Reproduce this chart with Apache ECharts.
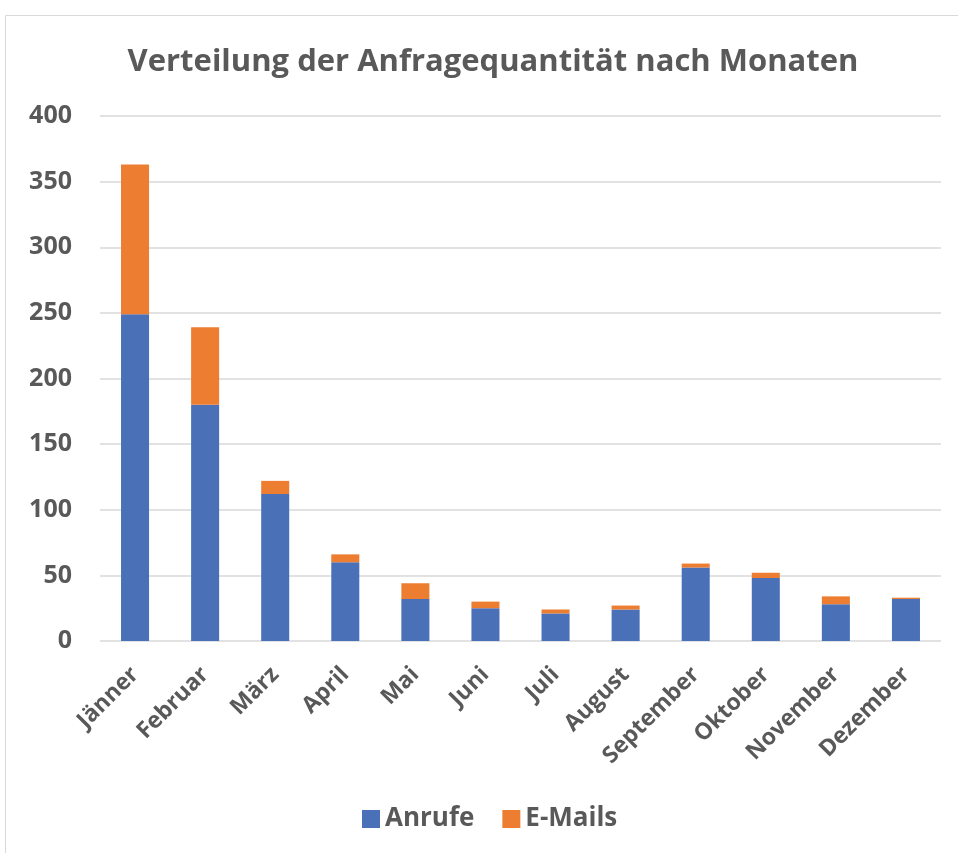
<!DOCTYPE html>
<html lang="de">
<head>
    <meta charset="UTF-8">
    <title>Anfragequantität</title>
    <style>
        html, body { margin: 0; padding: 0; background: #fff; }
        #chart { width: 958px; height: 853px; }
    </style>
</head>
<body>
    <div id="chart"></div>
    <script src="https://cdn.jsdelivr.net/npm/echarts@6/dist/echarts.min.js"></script>
    <script>
        var months = ['Jänner', 'Februar', 'März', 'April', 'Mai', 'Juni', 'Juli', 'August', 'September', 'Oktober', 'November', 'Dezember'];
        var anrufe = [249, 180, 112, 60, 32, 25, 21, 24, 56, 48, 28, 32];
        var emails = [114, 59, 10, 6, 12, 5, 3, 3, 3, 4, 6, 1];

        var textColor = '#595959';
        var font = '"Open Sans", "Noto Sans", sans-serif';

        var chart = echarts.init(document.getElementById('chart'));

        var option = {
            animation: false,
            title: {
                text: 'Verteilung der Anfragequantität nach Monaten',
                left: 488,
                textAlign: 'center',
                top: 42,
                textStyle: {
                    color: textColor,
                    fontFamily: font,
                    fontSize: 31,
                    fontWeight: 'bold'
                }
            },
            graphic: [{
                type: 'rect',
                shape: { x: 5.5, y: 15.5, width: 960, height: 850 },
                style: { fill: 'none', stroke: '#d9d9d9', lineWidth: 1 },
                silent: true
            }],
            legend: {
                top: 801,
                left: 357,
                itemWidth: 18,
                itemHeight: 18,
                itemGap: 28,
                icon: 'rect',
                textStyle: {
                    color: textColor,
                    fontFamily: font,
                    fontSize: 26,
                    fontWeight: 'bold'
                },
                data: ['Anrufe', 'E-Mails']
            },
            grid: {
                left: 100,
                right: 17,
                top: 116,
                bottom: 212
            },
            xAxis: {
                type: 'category',
                data: months,
                axisLine: { show: false },
                axisTick: { show: false },
                axisLabel: {
                    interval: 0,
                    rotate: 45,
                    margin: 30,
                    color: textColor,
                    fontFamily: font,
                    fontSize: 23,
                    fontWeight: 'bold'
                }
            },
            yAxis: {
                type: 'value',
                min: 0,
                max: 400,
                interval: 50,
                axisLine: { show: false },
                axisTick: { show: false },
                splitLine: { lineStyle: { color: '#d9d9d9', width: 1.5 } },
                axisLabel: {
                    margin: 28,
                    color: textColor,
                    fontFamily: font,
                    fontSize: 25,
                    fontWeight: 'bold'
                }
            },
            series: [{
                name: 'Anrufe',
                type: 'bar',
                stack: 'total',
                barWidth: '40%',
                itemStyle: { color: '#4A70B8' },
                data: anrufe
            }, {
                name: 'E-Mails',
                type: 'bar',
                stack: 'total',
                barWidth: '40%',
                itemStyle: { color: '#ED7D31' },
                data: emails
            }]
        };

        chart.setOption(option);
    </script>
</body>
</html>
